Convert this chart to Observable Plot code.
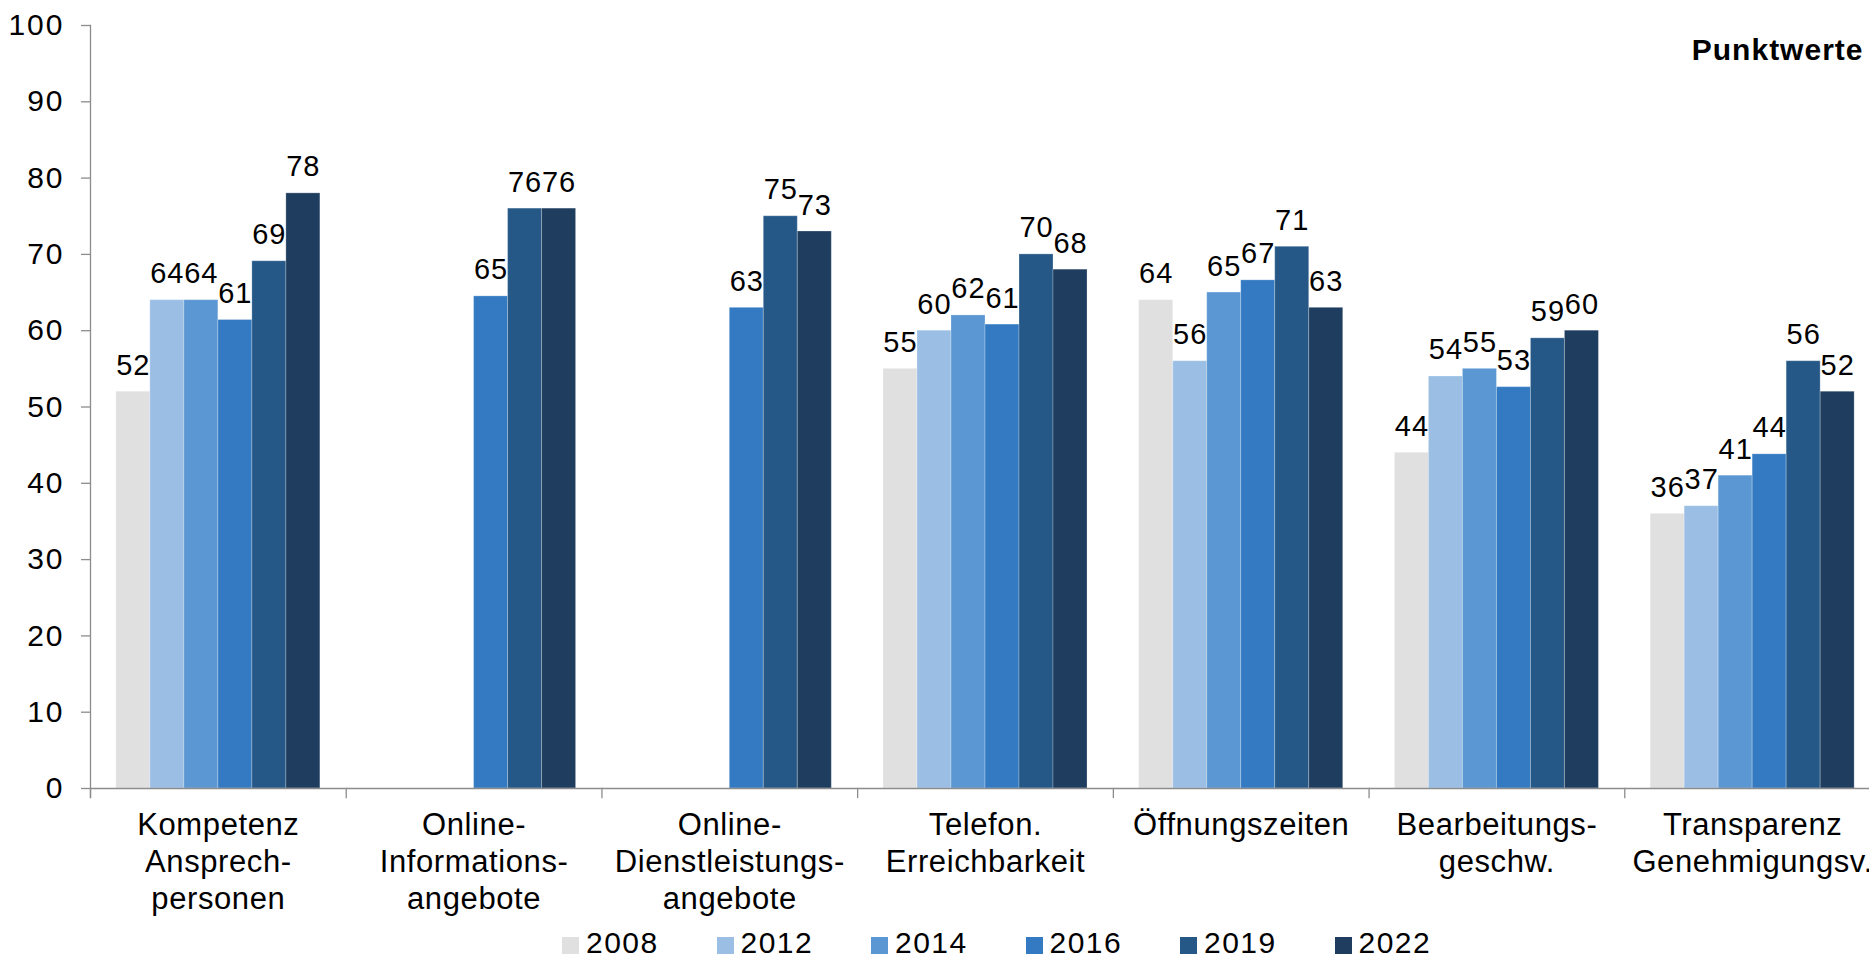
<!DOCTYPE html>
<html><head><meta charset="utf-8">
<script src="https://cdn.jsdelivr.net/npm/d3@7"></script>
<script src="https://cdn.jsdelivr.net/npm/@observablehq/plot@0.6"></script>
<style>
html,body{margin:0;padding:0;background:#fff;overflow:hidden;}
#chart{position:relative;width:1869px;height:959px;overflow:hidden;font-family:"Liberation Sans",Arial,sans-serif;}
#chart svg{display:block;max-width:none !important;height:930px !important;}
#chart g[aria-label="y-axis tick label"] text{letter-spacing:2px;}
#chart g[aria-label="fx-axis tick label"] text{letter-spacing:0.6px;}
#chart g[aria-label="text"] text{letter-spacing:1px;}
#legend{position:absolute;left:562px;top:928px;display:flex;font-size:30px;line-height:30px;letter-spacing:1.5px;color:#000;}
.item{display:flex;align-items:center;width:154.5px;height:30px;}
.sw{width:17px;height:17px;margin-right:7px;margin-top:4px;}
.lb{display:block;height:30px;line-height:30px;}
</style></head><body><div id="chart"></div>
<script>
const categories = ["Kompetenz Ansprechpersonen", "Online-Informationsangebote", "Online-Dienstleistungsangebote", "Telefon. Erreichbarkeit", "Öffnungszeiten", "Bearbeitungsgeschw.", "Transparenz Genehmigungsv."];
const categoryLabels = ["Kompetenz\nAnsprech-\npersonen", "Online-\nInformations-\nangebote", "Online-\nDienstleistungs-\nangebote", "Telefon.\nErreichbarkeit", "Öffnungszeiten", "Bearbeitungs-\ngeschw.", "Transparenz\nGenehmigungsv."];
const years = ["2008", "2012", "2014", "2016", "2019", "2022"];
const colors = ["#e0e0e0", "#9bbfe4", "#5b97d3", "#337ac3", "#255887", "#1e3d5f"];
const values2008 = [52, null, null, 55, 64, 44, 36];
const values2012 = [64, null, null, 60, 56, 54, 37];
const values2014 = [64, null, null, 62, 65, 55, 41];
const values2016 = [61.4, 64.5, 63, 60.8, 66.6, 52.6, 43.8];
const values2019 = [69.1, 76, 75, 70, 71, 59, 56];
const values2022 = [78, 76, 73, 68, 63, 60, 52];
const yTicks = [0, 10, 20, 30, 40, 50, 60, 70, 80, 90, 100];
const unitLabel = "Punktwerte";

const series = [values2008, values2012, values2014, values2016, values2019, values2022];
const data = [];
years.forEach((yr, j) => categories.forEach((c, i) => {
  const v = series[j][i];
  if (v != null) data.push({category: c, year: yr, value: v});
}));

const W = 1880, H = 930, mT = 25, mB = 142, mL = 90;
const innerH = H - mT - mB;
const axisColor = "#8c8c8c";
const font = "'Liberation Sans', Arial, sans-serif";

const plot = Plot.plot({
  width: W, height: H, marginTop: mT, marginBottom: mB, marginLeft: mL, marginRight: 0,
  style: {fontFamily: font, fontSize: "29px", color: "#000", background: "#fff", overflow: "visible"},
  fx: {domain: categories, padding: 0, round: false, label: null},
  x: {domain: years, paddingInner: 0, paddingOuter: 0.76, round: false, axis: null},
  y: {domain: [0, 100], label: null},
  color: {domain: years, range: colors},
  marks: [
    Plot.barY(data, {fx: "category", x: "year", y: "value", fill: "year", stroke: "#ffffff", strokeOpacity: 0.25, strokeWidth: 1}),
    Plot.ruleY([0], {stroke: axisColor, strokeWidth: 1.3}),
    Plot.frame({anchor: "left", stroke: axisColor, strokeWidth: 1.3, insetBottom: -9, facetAnchor: "left"}),
    Plot.frame({anchor: "left", stroke: axisColor, strokeWidth: 1.3, insetTop: innerH, insetBottom: -9}),
    Plot.axisY({ticks: yTicks, tickSize: 9, tickPadding: 17, fontSize: 30, stroke: axisColor, strokeWidth: 1.3, label: null, tickFormat: d => String(d)}),
    Plot.axisFx({anchor: "bottom", tickSize: 0, tickPadding: 20, fontSize: 31, lineHeight: 1.2, label: null, tickFormat: d => categoryLabels[categories.indexOf(d)]}),
    Plot.text(data, {fx: "category", x: "year", y: "value", text: d => String(Math.round(d.value)), lineAnchor: "bottom", dy: -17, fontSize: 29, fill: "#000"}),
    Plot.text([unitLabel], {fx: [categories[6]], text: d => d, frameAnchor: "top-right", textAnchor: "end", lineAnchor: "top", dx: -17, dy: 13, fontSize: 30, fontWeight: "bold", fill: "#000"})
  ]
});

const chart = document.getElementById("chart");
chart.appendChild(plot);
const legend = document.createElement("div");
legend.id = "legend";
years.forEach((yr, i) => {
  const item = document.createElement("div");
  item.className = "item";
  const sw = document.createElement("span");
  sw.className = "sw";
  sw.style.background = colors[i];
  const tx = document.createElement("span");
  tx.className = "lb";
  tx.textContent = yr;
  item.appendChild(sw);
  item.appendChild(tx);
  legend.appendChild(item);
});
chart.appendChild(legend);
</script></body></html>
